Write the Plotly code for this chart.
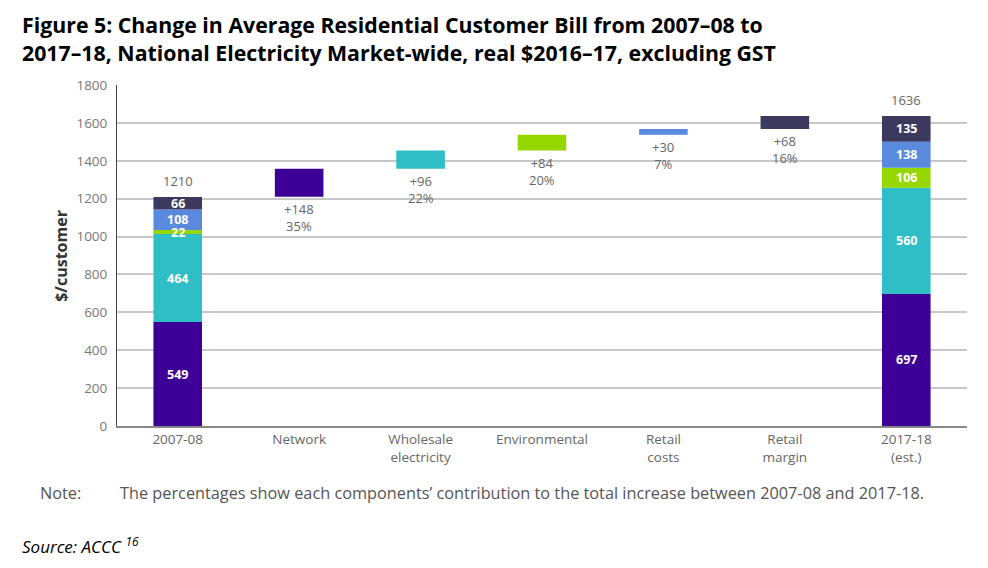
import plotly.graph_objects as go

categories = ["2007-08", "Network", "Wholesale<br>electricity", "Environmental",
              "Retail<br>costs", "Retail<br>margin", "2017-18<br>(est.)"]
components = ["Network", "Wholesale electricity", "Environmental", "Retail costs", "Retail margin"]
colors = ["#3d0096", "#30bec6", "#97d700", "#5a8ade", "#3b3a5e"]
start_values = [549, 464, 22, 108, 66]
end_values = [697, 560, 106, 138, 135]
changes = [148, 96, 84, 30, 68]
change_pct = ["35%", "22%", "20%", "7%", "16%"]
start_total = 1210
end_total = 1636
y_ticks = [0, 200, 400, 600, 800, 1000, 1200, 1400, 1600, 1800]

FONT = "Open Sans, Noto Sans, sans-serif"
fig = go.Figure()
BW = 0.40
ann = []
lab_font = dict(family=FONT, size=12.5, color="white")
gray_font = dict(family=FONT, size=13, color="#666666")

# stacked start and end bars
for ci, vals in ((0, start_values), (6, end_values)):
    base = 0
    for i, v in enumerate(vals):
        fig.add_trace(go.Bar(x=[categories[ci]], y=[v], base=[base], width=BW,
                             marker=dict(color=colors[i], line=dict(width=0)),
                             showlegend=False, hoverinfo="skip"))
        ann.append(dict(x=categories[ci], y=base + v / 2, text=f"<b>{v}</b>", showarrow=False,
                        font=lab_font, xref="x", yref="y"))
        base += v
    total = start_total if ci == 0 else end_total
    ann.append(dict(x=categories[ci], y=total, text=str(total), showarrow=False,
                    font=gray_font, yanchor="bottom", yshift=5, xref="x", yref="y"))

# floating waterfall bars
base = start_total
for i, ch in enumerate(changes):
    fig.add_trace(go.Bar(x=[categories[i + 1]], y=[ch], base=[base], width=BW,
                         marker=dict(color=colors[i], line=dict(width=0)),
                         showlegend=False, hoverinfo="skip"))
    ann.append(dict(x=categories[i + 1], y=base, text=f"+{ch}<br>{change_pct[i]}",
                    showarrow=False, font=gray_font, yanchor="top", yshift=-1,
                    xref="x", yref="y"))
    base += ch

# y axis title
ann.append(dict(x=-0.082, y=0.50, xref="paper", yref="paper", text="<b>$/customer</b>",
                showarrow=False, textangle=-90,
                font=dict(family=FONT, size=16, color="#333333")))
# title
ann.append(dict(x=-0.114, y=1.226, xref="paper", yref="paper", xanchor="left", yanchor="top",
                align="left",
                text="<b>Figure 5: Change in Average Residential Customer Bill from 2007–08 to<br>"
                     "2017–18, National Electricity Market-wide, real $2016–17, excluding GST</b>",
                showarrow=False,
                font=dict(family=FONT, size=21.3, color="#000000")))
# note
note_font = dict(family=FONT, size=16.3, color="#555555")
ann.append(dict(x=-0.093, y=-0.196, xref="paper", yref="paper", xanchor="left", yanchor="middle",
                text="Note:", showarrow=False, font=note_font))
ann.append(dict(x=0.001, y=-0.196, xref="paper", yref="paper", xanchor="left", yanchor="middle",
                text="The percentages show each components’ contribution to the total increase between 2007-08 and 2017-18.",
                showarrow=False, font=note_font))
# source
ann.append(dict(x=-0.114, y=-0.349, xref="paper", yref="paper", xanchor="left", yanchor="middle",
                text="<i>Source: ACCC <sup>16</sup></i>", showarrow=False,
                font=dict(family=FONT, size=17, color="#000000")))

fig.update_layout(
    width=980, height=560, autosize=False,
    margin=dict(l=109, r=21, t=77, b=142),
    plot_bgcolor="white", paper_bgcolor="white",
    barmode="overlay",
    annotations=ann,
    xaxis=dict(type="category", categoryorder="array", categoryarray=categories,
               range=[-0.5, 6.5], showgrid=False, showline=True, linecolor="#888888",
               linewidth=2, ticks="", tickfont=dict(family=FONT, size=13.5, color="#666666")),
    yaxis=dict(range=[0, 1800], tickvals=y_ticks, showgrid=True, gridcolor="#c8c8c8",
               gridwidth=1.5, showline=True, linecolor="#444444", linewidth=1,
               zeroline=False, ticks="", ticklabelstandoff=6,
               tickfont=dict(family=FONT, size=13.5, color="#777777")),
)

fig.write_html("out.html")
